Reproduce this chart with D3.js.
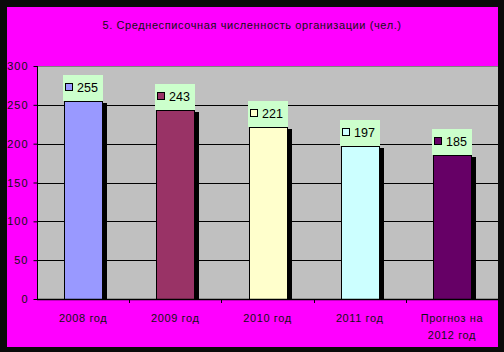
<!DOCTYPE html>
<html>
<head>
<meta charset="utf-8">
<script src="https://cdn.jsdelivr.net/npm/d3@7"></script>
<style>
  html, body { margin: 0; padding: 0; background: #000; }
  svg text { font-family: Arial, "Liberation Sans", sans-serif; }
</style>
</head>
<body>
<svg id="chart" width="504" height="352"></svg>
<script>
const categories = ['2008 год', '2009 год', '2010 год', '2011 год', 'Прогноз на\n2012 год'];
const values = [255, 243, 221, 197, 185];
const barColors = ['#9999FF', '#993366', '#FFFFCC', '#CCFFFF', '#660066'];
const yTicks = [0, 50, 100, 150, 200, 250, 300];
const title = '5. Среднесписочная численность организации (чел.)';

const svg = d3.select('#chart');
const W = 504, H = 352;

// black frame + magenta chart area
svg.append('rect').attr('width', W).attr('height', H).attr('fill', '#0a0a0a');
svg.append('rect').attr('x', 7).attr('y', 7).attr('width', 491).attr('height', 340).attr('fill', '#FF00FF');

const plot = {left: 37, right: 498, top: 66, bottom: 299};

const x = d3.scaleBand()
    .domain(categories)
    .range([plot.left, plot.right])
    .paddingInner(0.588)
    .paddingOuter(0.294);

const y = d3.scaleLinear()
    .domain([0, 300])
    .range([plot.bottom, plot.top]);

// plot background
svg.append('rect')
    .attr('x', plot.left).attr('y', plot.top)
    .attr('width', plot.right - plot.left).attr('height', plot.bottom - plot.top)
    .attr('fill', '#C0C0C0');

// gridlines
svg.append('g')
    .selectAll('line')
    .data(yTicks.filter(d => d > 0))
    .join('line')
    .attr('x1', plot.left).attr('x2', plot.right)
    .attr('y1', d => Math.round(y(d)) + 0.5).attr('y2', d => Math.round(y(d)) + 0.5)
    .attr('stroke', d => d === 300 ? '#808080' : '#000')
    .attr('stroke-width', 1);

// title
svg.append('text')
    .attr('x', 252).attr('y', 29)
    .attr('text-anchor', 'middle')
    .attr('font-size', 11)
    .attr('letter-spacing', 0.6)
    .attr('fill', '#111')
    .text(title);

// y axis
const yAxis = svg.append('g')
    .attr('transform', `translate(${plot.left + 0.5},0)`)
    .call(d3.axisLeft(y).tickValues(yTicks).tickSize(4).tickPadding(5));
yAxis.select('.domain').attr('stroke', '#000').attr('d', `M0,${plot.top}V${plot.bottom}`);
yAxis.selectAll('.tick line').attr('stroke', '#000');
yAxis.selectAll('.tick text')
    .attr('font-size', 11)
    .attr('letter-spacing', 1)
    .attr('fill', '#111')
    .attr('font-family', 'Arial, "Liberation Sans", sans-serif');

// bars: shadow, body
const step = x.step();
const bars = svg.append('g');
categories.forEach((c, i) => {
    const bx = Math.round(x(c));
    const bw = Math.round(x.bandwidth());
    const by = Math.round(y(values[i]));
    bars.append('rect')
        .attr('x', bx + 1).attr('y', by + 2)
        .attr('width', bw + 4).attr('height', plot.bottom - by - 2)
        .attr('fill', '#000');
    bars.append('rect')
        .attr('x', bx + 0.5).attr('y', by + 0.5)
        .attr('width', bw).attr('height', plot.bottom - by)
        .attr('fill', barColors[i])
        .attr('stroke', '#000').attr('stroke-width', 1);

    // data label box
    const lx = bx - 1, lw = bw + 2, lh = 26, ly = by - lh;
    bars.append('rect')
        .attr('x', lx).attr('y', ly).attr('width', lw).attr('height', lh)
        .attr('fill', '#CCFFCC');
    bars.append('rect')
        .attr('x', lx + 2.5).attr('y', ly + 8.5).attr('width', 7).attr('height', 7)
        .attr('fill', barColors[i]).attr('stroke', '#000').attr('stroke-width', 1);
    bars.append('text')
        .attr('x', lx + 14).attr('y', ly + 17)
        .attr('font-size', 12.5)
        .attr('fill', '#000')
        .text(values[i]);
});

// x axis
const xAxisY = plot.bottom + 0.5;
svg.append('line')
    .attr('x1', plot.left).attr('x2', plot.right)
    .attr('y1', xAxisY).attr('y2', xAxisY)
    .attr('stroke', '#000').attr('stroke-width', 1.5);
svg.append('g')
    .selectAll('line')
    .data(d3.range(1, categories.length))
    .join('line')
    .attr('x1', i => Math.round(plot.left + i * step) + 0.5)
    .attr('x2', i => Math.round(plot.left + i * step) + 0.5)
    .attr('y1', plot.bottom).attr('y2', plot.bottom + 4)
    .attr('stroke', '#000');

const xl = svg.append('g')
    .selectAll('text')
    .data(categories)
    .join('text')
    .attr('x', d => x(d) + x.bandwidth() / 2)
    .attr('y', 322)
    .attr('text-anchor', 'middle')
    .attr('font-size', 11)
    .attr('letter-spacing', 0.6)
    .attr('fill', '#111');
xl.each(function(d) {
    const lines = d.split('\n');
    d3.select(this).selectAll('tspan')
        .data(lines)
        .join('tspan')
        .attr('x', x(d) + x.bandwidth() / 2)
        .attr('dy', (l, j) => j === 0 ? 0 : 17)
        .text(l => l);
});
</script>
</body>
</html>
